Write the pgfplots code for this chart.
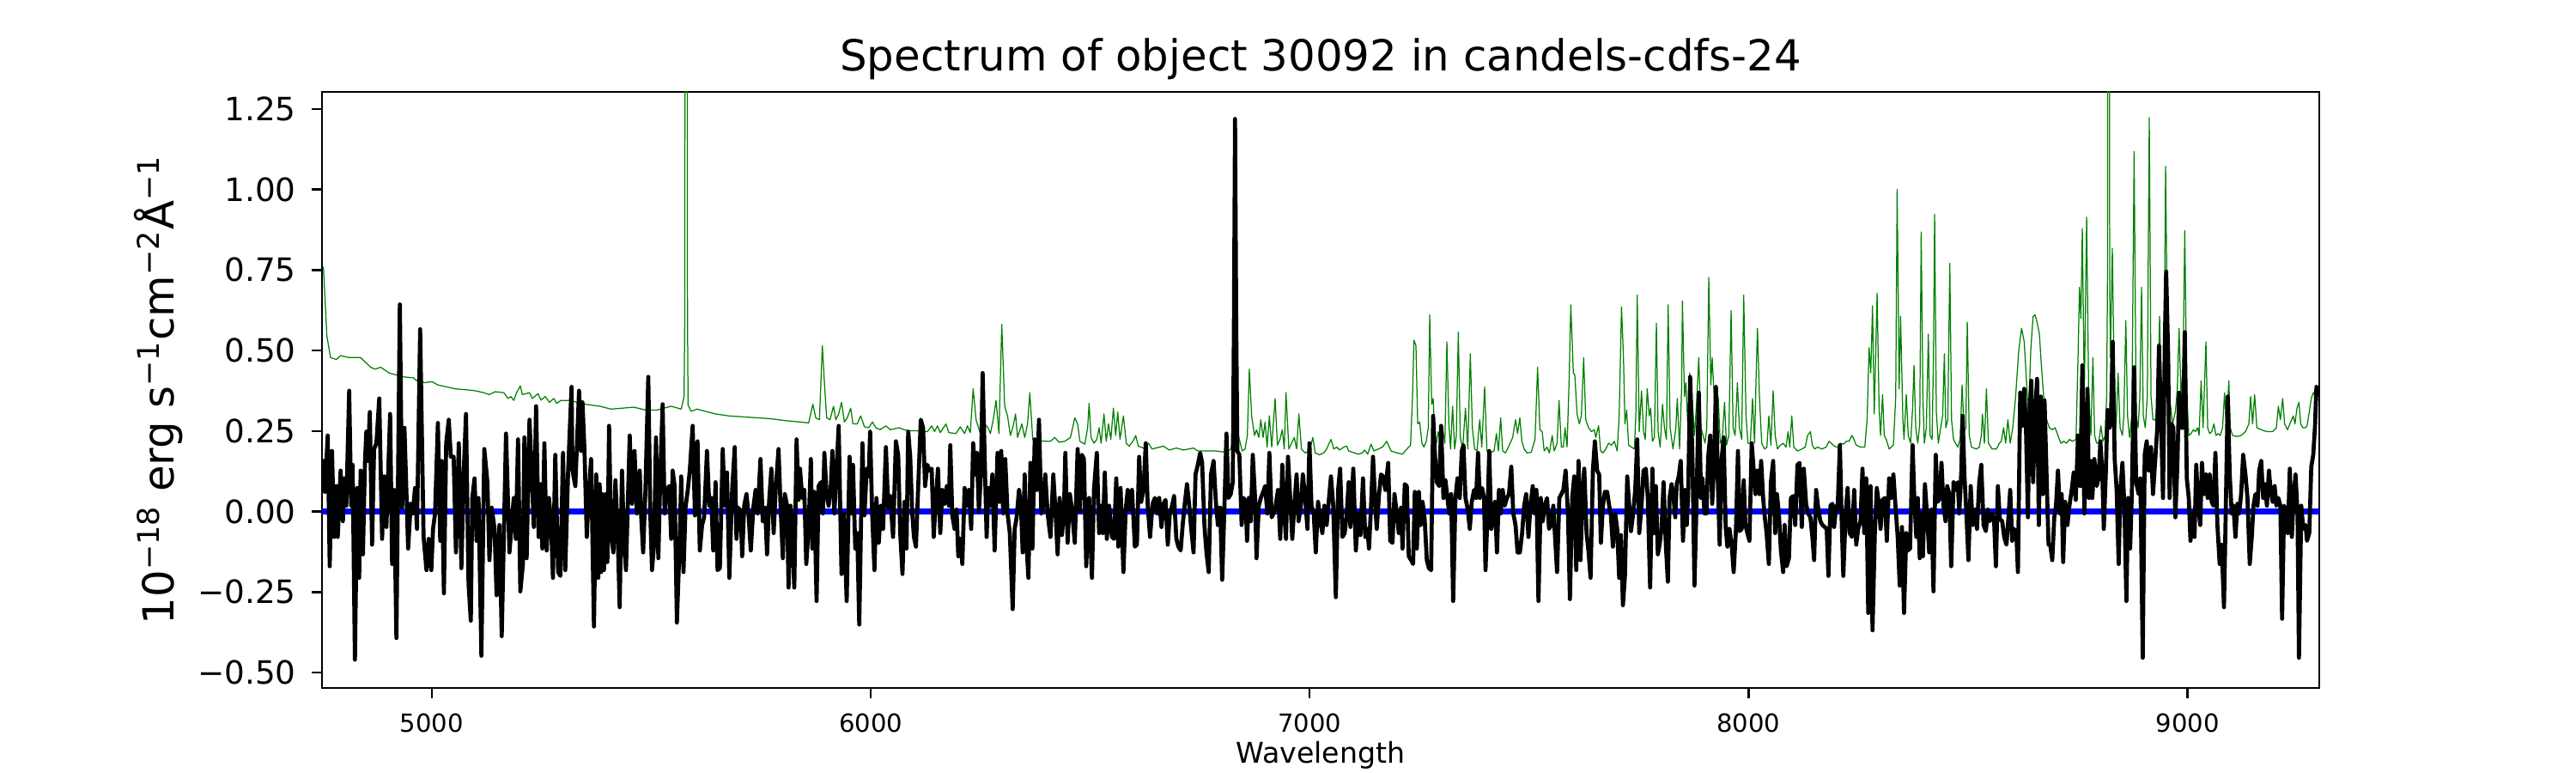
\documentclass[border=0pt]{standalone}
\usepackage{fontspec}
\setmainfont{DejaVu Sans}
\usepackage{pgfplots}
\pgfplotsset{compat=1.18}
\definecolor{mplgreen}{HTML}{008000}
\begin{document}
\begin{tikzpicture}
\path[use as bounding box] (0,0) rectangle (1084.05pt,325.22pt);
\begin{axis}[
  at={(135.51pt,35.77pt)}, anchor=south west,
  scale only axis, width=840.5pt, height=250.78pt,
  xmin=4750, xmax=9300, ymin=-0.548, ymax=1.303,
  axis line style={line width=0.9pt},
  tick style={line width=0.9pt, black},
  major tick length=4.3pt, tick align=outside, tick pos=left,
  xtick={5000,6000,7000,8000,9000},
  xticklabels={5000,6000,7000,8000,9000},
  ytick={-0.5,-0.25,0,0.25,0.5,0.75,1,1.25},
  yticklabels={−0.50,−0.25,0.00,0.25,0.50,0.75,1.00,1.25},
  minor tick num=0,
  xticklabel style={font=\fontsize{10.5}{12}\selectfont, anchor=north, inner sep=0pt, yshift=-6.2pt},
  yticklabel style={font=\fontsize{13.5}{16}\selectfont, anchor=east, inner sep=0pt, xshift=-6.5pt},
  title={Spectrum of object 30092 in candels-cdfs-24},
  title style={font=\fontsize{18}{22}\selectfont, at={(axis description cs:0.5,1.0346)}, anchor=base, inner sep=0pt, yshift=-6pt},
  xlabel={Wavelength},
  xlabel style={font=\fontsize{12}{14}\selectfont, at={(axis description cs:0.5,-0.1254)}, anchor=base, inner sep=0pt},
  ylabel={10\textsuperscript{−18} erg s\textsuperscript{−1}cm\textsuperscript{−2}Å\textsuperscript{−1}},
  ylabel style={font=\fontsize{18}{22}\selectfont, at={(axis description cs:-0.0740,0.5)}, anchor=base, inner sep=0pt},
]
% noise / sky spectrum (green)
\addplot[mplgreen, line width=0.45pt, mark=none, line join=round] coordinates {
(4753.2,0.760)(4761.1,0.545)(4769.5,0.478)(4782.6,0.472)(4792.4,0.484)(4811.9,0.478)(4838.0,0.478)(4860.8,0.448)(4870.6,0.442)(4883.6,0.448)(4903.2,0.430)(4919.5,0.424)(4935.8,0.418)(4958.6,0.415)(4965.1,0.406)(4971.7,0.415)(4981.4,0.400)(5001.0,0.403)(5014.0,0.393)(5033.6,0.387)(5053.2,0.381)(5079.2,0.378)(5098.8,0.375)(5118.4,0.369)(5131.4,0.363)(5144.4,0.372)(5164.0,0.369)(5173.8,0.351)(5180.3,0.357)(5186.8,0.345)(5193.3,0.369)(5201.8,0.390)(5206.4,0.363)(5222.7,0.369)(5229.2,0.351)(5242.2,0.366)(5248.8,0.346)(5258.5,0.357)(5268.3,0.339)(5278.1,0.351)(5284.6,0.336)(5294.4,0.345)(5314.0,0.345)
(5349.9,0.333)(5382.5,0.327)(5408.6,0.318)(5434.7,0.321)(5460.7,0.324)(5486.8,0.315)(5512.9,0.315)(5545.5,0.327)(5568.3,0.318)(5574.8,0.357)(5576.4,0.60)(5577.4,2.5)(5581.4,2.5)(5582.6,0.60)(5584.0,0.330)(5591.1,0.311)(5604.2,0.318)(5623.7,0.311)(5646.6,0.303)(5675.9,0.297)(5708.5,0.294)(5741.1,0.291)(5773.7,0.288)(5806.3,0.282)(5838.9,0.278)(5858.5,0.275)(5868.2,0.333)(5874.8,0.291)(5883.2,0.285)(5889.8,0.515)(5894.3,0.406)
(5899.6,0.291)(5907.4,0.285)(5915.3,0.327)(5920.5,0.285)(5927.0,0.303)(5933.5,0.339)(5940.0,0.278)(5946.6,0.291)(5954.4,0.321)(5959.6,0.272)(5969.4,0.272)(5977.2,0.297)(5985.7,0.263)(5995.5,0.260)(6003.9,0.278)(6011.8,0.260)(6021.5,0.254)(6034.6,0.266)(6044.4,0.254)(6063.9,0.260)(6083.5,0.251)(6109.6,0.251)(6129.1,0.248)(6138.9,0.266)(6145.4,0.248)(6151.9,0.266)(6158.5,0.245)(6171.5,0.272)(6178.0,0.245)(6194.3,0.242)(6204.1,0.263)(6213.9,0.242)(6220.4,0.266)(6226.9,0.245)(6233.4,0.381)(6240.0,0.285)(6249.7,0.242)(6259.5,0.272)(6267.3,0.260)(6272.6,0.242)(6279.1,0.285)(6285.6,0.345)(6292.1,0.242)(6298.6,0.581)(6305.2,0.327)(6311.7,0.297)(6318.2,0.236)(6324.7,0.266)(6329.9,0.303)(6334.5,0.230)(6344.3,0.272)(6350.8,0.230)(6357.3,0.272)(6362.5,0.369)(6369.1,0.224)(6380.1,0.221)(6396.4,0.218)(6409.5,0.218)(6419.3,0.230)(6429.0,0.215)(6442.1,0.218)(6455.1,0.230)(6464.9,0.291)
(6471.4,0.272)(6476.6,0.218)(6487.7,0.209)(6494.2,0.260)(6497.5,0.336)(6502.0,0.230)(6508.6,0.212)(6515.1,0.224)(6520.3,0.260)(6524.9,0.212)(6531.4,0.303)(6536.6,0.218)(6541.8,0.272)(6547.0,0.224)(6552.9,0.321)(6558.1,0.236)(6562.7,0.309)(6567.9,0.224)(6575.7,0.297)(6582.2,0.212)(6588.8,0.203)(6597.2,0.218)(6603.8,0.236)(6609.6,0.203)(6621.4,0.197)(6633.1,0.212)(6640.9,0.194)(6667.0,0.203)(6680.0,0.191)(6696.3,0.197)(6712.6,0.191)(6735.5,0.197)(6745.2,0.188)(6784.4,0.188)(6810.4,0.184)(6820.2,0.194)(6826.7,0.236)(6833.3,0.266)(6839.8,0.224)(6846.3,0.188)(6852.8,0.194)(6858.0,0.236)(6862.6,0.442)(6867.8,0.297)(6874.3,0.236)(6878.9,0.254)(6884.1,0.230)(6888.7,0.285)(6893.9,0.230)(6898.5,0.278)(6903.0,0.200)(6908.2,0.297)(6913.5,0.200)(6921.3,0.351)(6926.5,0.206)(6932.4,0.224)(6937.6,0.254)(6942.1,0.194)(6946.1,0.369)(6952.6,0.194)(6965.0,0.230)(6970.2,0.194)(6975.4,0.303)(6981.3,0.194)(6989.7,0.182)(6999.5,0.188)(7007.3,0.230)(7012.6,0.182)(7022.3,0.176)(7032.1,0.182)(7038.6,0.194)
(7048.5,0.224)(7055.0,0.194)(7061.5,0.200)(7068.1,0.191)(7077.8,0.200)(7084.4,0.203)(7088.9,0.188)(7097.4,0.184)(7110.4,0.178)(7120.2,0.182)(7125.4,0.191)(7132.0,0.178)(7139.8,0.209)(7146.3,0.188)(7156.1,0.194)(7165.9,0.200)(7175.6,0.218)(7185.4,0.188)(7198.5,0.182)(7211.5,0.178)(7221.3,0.194)(7229.8,0.206)(7234.3,0.357)(7237.6,0.532)(7242.1,0.515)(7246.1,0.272)(7250.6,0.278)(7255.8,0.212)(7260.4,0.200)(7265.6,0.218)(7270.2,0.260)(7273.4,0.611)(7278.0,0.333)(7281.3,0.351)(7286.5,0.194)(7293.0,0.248)(7297.6,0.212)(7302.8,0.260)(7308.0,0.212)(7312.6,0.527)(7317.1,0.272)(7321.0,0.194)(7325.6,0.327)(7330.2,0.194)(7334.1,0.236)(7338.6,0.557)(7343.2,0.230)(7348.4,0.194)(7354.9,0.321)(7360.2,0.194)(7366.0,0.490)(7370.6,0.260)(7375.8,0.194)(7381.0,0.188)(7387.5,0.285)(7392.1,0.200)(7398.6,0.387)(7403.8,0.188)(7410.4,0.182)(7420.1,0.188)(7425.4,0.242)(7429.9,0.188)(7435.1,0.291)(7439.7,0.188)(7446.2,0.182)(7452.7,0.200)(7462.5,0.230)(7469.0,0.285)(7473.6,0.242)(7478.8,0.291)(7483.4,0.218)(7488.6,0.194)(7495.1,0.182)(7504.9,0.184)(7513.4,0.224)(7519.2,0.448)(7524.5,0.254)(7529.7,0.248)(7534.2,0.188)(7540.8,0.200)(7546.0,0.182)(7552.5,0.236)(7557.1,0.188)(7563.6,0.212)(7568.1,0.345)(7573.4,0.200)(7577.9,0.200)(7581.8,0.260)(7586.4,0.200)(7591.0,0.406)(7594.9,0.642)(7600.7,0.430)(7604.0,0.424)(7609.2,0.303)(7614.4,0.272)(7619.0,0.297)(7624.2,0.478)
(7628.9,0.285)(7635.4,0.260)(7641.9,0.248)(7648.4,0.254)(7651.7,0.230)(7658.2,0.266)(7662.8,0.188)(7668.0,0.182)(7674.5,0.194)(7681.0,0.212)(7687.5,0.206)(7694.1,0.218)(7700.6,0.188)(7705.1,0.297)(7710.4,0.636)(7714.9,0.478)(7718.2,0.272)(7722.1,0.315)(7726.7,0.206)(7733.2,0.200)(7739.7,0.194)(7743.0,0.297)(7746.2,0.672)(7750.8,0.248)(7756.0,0.375)(7760.6,0.248)(7764.5,0.224)(7769.0,0.381)(7773.6,0.297)(7776.9,0.321)(7780.8,0.218)(7785.3,0.230)(7789.9,0.585)(7793.8,0.248)(7798.4,0.200)(7803.9,0.333)(7808.2,0.260)(7812.7,0.224)(7816.6,0.642)(7821.2,0.260)(7827.7,0.194)(7834.2,0.260)(7837.5,0.351)(7842.7,0.194)(7847.3,0.381)(7849.2,0.654)(7853.8,0.357)(7857.1,0.400)(7861.6,0.260)(7865.5,0.430)(7870.1,0.381)(7876.6,0.236)(7881.8,0.345)(7886.4,0.478)(7891.6,0.260)(7896.2,0.236)(7900.7,0.212)(7904.7,0.260)(7909.2,0.727)(7913.8,0.393)(7917.0,0.478)(7922.3,0.333)(7926.8,0.321)(7930.7,0.357)(7935.3,0.212)(7939.9,0.224)(7945.1,0.339)(7949.6,0.206)(7954.9,0.236)(7960.1,0.624)(7964.6,0.260)(7969.2,0.236)(7974.4,0.400)(7979.0,0.260)(7984.2,0.224)(7988.8,0.672)(7994.0,0.297)(7998.5,0.212)(8003.8,0.212)(8009.0,0.351)(8013.5,0.212)(8016.8,0.406)(8020.1,0.569)(8024.6,0.357)(8029.8,0.212)(8036.4,0.194)(8041.6,0.200)(8046.1,0.297)(8050.7,0.206)(8055.9,0.375)(8060.5,0.236)(8065.7,0.194)(8072.2,0.206)(8078.7,0.212)(8085.3,0.200)(8089.8,0.248)(8093.7,0.200)(8098.3,0.297)(8102.9,0.200)(8111.3,0.188)(8121.1,0.194)(8129.0,0.200)(8134.2,0.236)(8140.7,0.248)(8145.2,0.206)(8150.5,0.194)(8157.0,0.200)(8166.8,0.194)(8176.5,0.200)(8183.1,0.218)(8188.3,0.212)(8192.8,0.206)(8199.4,0.200)
(8202.7,0.200)(8209.2,0.212)(8215.7,0.209)(8222.3,0.218)(8228.8,0.218)(8235.3,0.236)(8239.9,0.224)(8245.1,0.206)(8254.9,0.200)(8264.6,0.200)(8269.9,0.285)(8274.4,0.509)(8278.3,0.430)(8282.2,0.639)(8286.2,0.303)(8292.7,0.678)(8297.2,0.321)(8300.5,0.236)(8305.1,0.363)(8309.0,0.236)(8313.5,0.224)(8320.1,0.194)(8329.8,0.206)(8335.1,0.357)(8338.3,1.000)(8342.9,0.381)(8346.1,0.606)(8351.4,0.285)(8354.0,0.224)(8359.2,0.363)(8363.7,0.236)(8369.0,0.212)(8373.5,0.321)(8376.8,0.454)(8380.7,0.260)(8385.3,0.212)(8389.8,0.272)(8393.1,0.868)(8397.0,0.357)(8400.3,0.212)(8404.8,0.260)(8409.4,0.551)(8413.3,0.236)(8417.9,0.224)(8421.1,0.478)(8423.7,0.923)(8427.6,0.309)(8432.2,0.212)(8437.4,0.260)(8442.0,0.297)(8445.9,0.490)(8449.2,0.260)(8453.7,0.285)(8458.3,0.771)(8462.2,0.285)(8466.8,0.224)(8471.3,0.212)(8476.5,0.200)(8481.8,0.224)(8486.3,0.393)(8490.9,0.248)(8494.8,0.260)(8498.1,0.588)(8502.6,0.236)(8507.8,0.200)(8518.9,0.194)(8525.4,0.200)(8530.0,0.236)(8532.6,0.303)(8537.2,0.212)(8541.7,0.381)(8546.3,0.212)(8554.8,0.194)(8564.6,0.194)(8571.1,0.212)(8575.6,0.218)(8580.9,0.260)(8585.4,0.212)(8590.6,0.285)(8595.9,0.212)(8601.7,0.260)(8608.2,0.357)(8615.4,0.502)(8621.9,0.569)(8627.8,0.527)(8633.0,0.406)(8637.6,0.297)(8642.8,0.502)(8648.0,0.606)(8652.6,0.611)(8657.1,0.588)(8662.4,0.551)(8666.9,0.454)(8672.1,0.357)(8678.7,0.285)(8685.2,0.260)(8691.7,0.254)(8698.2,0.260)(8704.7,0.236)(8711.3,0.212)(8717.8,0.218)(8724.3,0.212)(8730.8,0.224)(8737.3,0.218)(8745.8,0.224)
(8750.4,0.478)(8753.7,0.696)(8756.9,0.599)(8760.2,0.878)(8764.7,0.357)(8770.0,0.914)(8774.5,0.381)(8779.7,0.236)(8784.3,0.478)(8788.2,0.236)(8792.8,0.212)(8797.3,0.212)(8802.6,0.266)(8807.1,0.218)(8812.3,0.236)(8815.6,0.357)(8817.5,0.70)(8818.4,2.0)(8821.2,2.0)(8822.6,0.70)(8824.1,0.478)(8828.6,0.817)(8833.2,0.357)(8837.1,0.260)(8841.7,0.430)(8846.2,0.260)(8851.5,0.236)(8854.7,0.297)(8859.3,0.593)(8863.2,0.297)(8867.8,0.230)(8873.0,0.297)(8878.2,1.118)(8882.8,0.297)(8887.3,0.260)(8891.2,0.357)(8895.1,0.696)(8899.1,0.297)(8903.6,0.260)(8908.2,0.357)(8912.7,1.223)(8916.7,0.357)(8921.2,0.285)(8926.4,0.285)(8931.7,0.333)(8936.2,0.606)(8940.8,0.333)(8946.0,0.357)(8949.9,1.072)(8954.5,0.478)(8959.0,0.357)(8965.6,0.272)(8972.1,0.309)(8976.6,0.381)(8980.6,0.569)(8985.1,0.357)(8989.7,0.454)(8993.6,0.872)(8998.2,0.357)(9002.7,0.236)(9007.9,0.242)(9013.2,0.254)(9017.7,0.248)(9022.9,0.260)(9026.2,0.236)(9030.8,0.406)(9035.3,0.260)(9041.8,0.527)(9045.8,0.260)(9050.3,0.242)(9054.9,0.248)(9060.1,0.272)(9064.7,0.236)(9069.9,0.242)(9074.4,0.236)(9079.7,0.260)(9084.2,0.369)(9088.1,0.260)(9094.0,0.406)(9097.3,0.260)(9102.5,0.236)(9112.3,0.233)(9122.0,0.236)(9131.8,0.248)(9139.6,0.272)(9143.6,0.357)(9148.1,0.272)(9152.7,0.363)(9157.9,0.260)(9167.7,0.254)(9180.7,0.248)(9193.8,0.248)(9202.2,0.260)(9206.8,0.327)(9211.4,0.285)(9216.6,0.351)(9221.1,0.272)(9227.7,0.254)(9232.9,0.272)(9240.7,0.297)(9244.6,0.272)(9249.2,0.321)(9253.7,0.339)(9257.7,0.272)(9262.9,0.260)(9268.7,0.260)(9272.0,0.266)(9277.2,0.309)(9281.8,0.351)(9286.3,0.369)(9291.5,0.357)(9296.8,0.345)
};
% zero line (blue)
\addplot[blue, line width=2.2pt, mark=none] coordinates {(4750,0)(9300,0)};
% object spectrum (black)
\addplot[black, line width=1.7pt, mark=none, line join=round] coordinates {
(4753.2,0.163)(4756.5,0.061)(4763.0,0.236)(4767.6,-0.170)(4772.8,0.188)(4777.4,-0.079)(4782.6,0.079)(4785.8,-0.079)(4792.4,0.127)(4797.6,-0.030)(4800.8,0.103)(4805.4,0.018)(4811.9,0.375)(4816.5,0.018)(4819.7,0.145)(4825.0,-0.460)(4830.2,0.073)(4834.7,-0.206)(4838.0,0.127)(4843.2,-0.133)(4847.8,0.151)(4851.0,0.248)(4854.3,0.157)(4858.9,0.309)(4864.1,-0.103)(4868.6,0.194)(4873.9,0.212)(4880.4,0.351)(4886.9,-0.085)(4891.5,0.109)(4896.7,-0.048)(4905.2,0.303)(4909.7,-0.163)(4914.3,0.067)(4919.5,-0.393)(4927.3,0.643)(4932.5,0.012)(4937.8,0.260)(4946.2,-0.115)(4952.1,0.024)(4956.7,-0.006)(4961.9,0.073)(4966.4,-0.054)(4973.6,0.566)(4981.4,-0.079)(4988.0,-0.182)(4993.2,-0.085)(4999.0,-0.182)(5003.0,-0.054)(5007.5,-0.006)(5014.0,0.275)(5019.3,-0.091)(5022.5,0.157)(5027.7,-0.254)(5032.9,0.212)(5038.8,0.285)(5043.4,0.170)(5049.9,0.170)(5055.1,-0.127)(5061.6,0.212)(5067.5,-0.176)(5072.7,0.115)(5078.0,0.303)(5083.8,-0.224)(5089.0,-0.339)(5092.3,0.042)(5097.5,0.103)(5102.1,-0.091)(5106.6,0.042)(5113.1,-0.448)(5119.7,0.194)(5126.8,0.091)(5131.4,-0.151)(5136.6,0.012)(5143.1,-0.054)(5147.7,-0.260)(5154.2,-0.042)(5159.4,-0.387)(5169.2,0.242)(5177.0,-0.127)(5186.8,0.042)(5191.4,-0.085)(5196.6,0.224)(5201.8,-0.248)(5207.7,-0.163)(5211.0,0.230)(5216.2,-0.145)(5222.7,0.285)(5227.9,0.115)(5232.5,-0.048)(5237.7,0.327)(5243.5,-0.079)(5247.5,0.085)(5252.0,-0.115)(5256.6,0.212)(5261.8,-0.121)(5267.0,0.042)(5271.6,-0.030)(5276.1,-0.206)(5281.4,0.176)(5287.9,-0.188)(5293.1,-0.200)(5299.0,0.182)(5304.2,-0.182)(5310.7,0.127)(5318.5,0.387)
(5320.6,0.127)(5327.1,0.079)(5335.6,0.375)(5340.1,0.188)(5343.4,0.339)(5348.0,0.188)(5353.2,-0.079)(5357.7,0.054)(5363.0,0.163)(5369.5,-0.357)(5374.7,0.115)(5379.2,-0.206)(5382.5,0.085)(5385.8,-0.188)(5389.0,0.054)(5392.3,-0.182)(5396.8,0.054)(5400.1,-0.157)(5404.0,0.266)(5408.6,-0.079)(5413.8,-0.127)(5418.4,0.097)(5423.6,-0.067)(5428.1,-0.297)(5433.4,0.127)(5437.9,-0.091)(5442.5,-0.182)(5451.0,0.236)(5456.2,0.024)(5462.0,0.188)(5467.3,-0.006)(5473.8,0.127)(5477.0,-0.012)(5481.6,-0.127)(5486.8,0.067)(5493.3,0.418)(5497.9,-0.006)(5501.8,-0.182)(5506.4,-0.103)(5510.9,0.230)(5516.2,-0.145)(5520.7,0.115)(5526.0,0.333)(5530.5,-0.006)(5535.7,0.067)(5541.0,0.079)(5545.5,-0.085)(5548.8,0.127)(5553.3,0.079)(5558.5,-0.345)(5565.1,-0.079)(5568.3,0.109)(5573.5,-0.188)(5578.1,0.012)(5583.3,0.067)(5587.9,0.127)(5594.4,0.266)(5599.6,-0.012)(5605.5,0.218)(5610.7,-0.121)(5615.9,-0.042)(5620.5,-0.018)(5627.0,0.188)(5632.2,0.018)(5636.8,0.042)(5641.3,-0.121)(5646.6,0.091)(5651.1,-0.182)(5656.3,-0.176)(5662.9,0.194)(5667.4,0.018)(5672.6,0.121)(5677.9,-0.206)(5684.4,0.067)(5690.2,0.200)(5694.2,-0.085)(5698.7,0.012)(5703.9,-0.006)(5707.2,-0.139)(5711.8,0.018)(5717.0,0.054)(5721.5,-0.006)(5726.8,-0.121)(5732.6,0.012)(5737.8,0.067)(5742.4,-0.006)(5748.9,0.163)(5754.1,-0.030)(5759.4,0.012)(5763.9,-0.133)(5768.5,0.030)(5773.7,0.133)(5778.9,-0.067)(5783.5,0.067)(5790.0,0.194)(5794.6,0.018)(5799.8,-0.145)(5804.3,0.054)(5809.6,0.018)(5812.8,-0.236)(5817.4,0.018)(5821.3,-0.079)(5825.9,-0.236)(5831.1,0.224)(5835.6,0.036)(5838.9,0.133)(5844.1,0.042)(5848.7,0.067)(5853.2,-0.163)(5858.5,-0.054)(5863.7,0.163)(5867.0,-0.115)(5871.5,0.061)(5876.7,-0.278)(5881.3,0.079)(5886.5,0.091)(5891.1,-0.006)
(5894.4,0.182)(5899.6,0.054)(5904.2,0.018)(5908.7,0.067)(5912.7,0.188)(5917.2,-0.006)(5921.8,0.115)(5927.0,0.266)(5933.5,-0.194)(5938.7,-0.006)(5945.3,-0.278)(5951.8,0.170)(5956.3,-0.006)(5959.6,0.145)(5964.8,-0.115)(5969.4,-0.067)(5973.9,-0.351)(5981.1,0.212)(5985.7,-0.012)(5990.9,0.133)(5995.5,0.109)(5998.7,0.248)(6003.3,-0.006)(6008.5,-0.182)(6013.1,0.042)(6018.3,-0.097)(6023.5,0.018)(6028.1,-0.054)(6034.6,0.200)(6039.8,0.012)(6044.4,0.048)(6050.9,-0.079)(6057.4,0.218)(6062.6,0.176)(6067.2,-0.067)(6072.4,-0.194)(6077.0,0.030)(6081.5,-0.115)(6085.4,0.248)(6090.0,0.170)(6094.6,-0.006)(6098.5,-0.079)(6103.0,-0.109)(6109.6,0.127)(6114.1,0.285)(6119.3,0.260)(6123.9,0.079)(6129.1,0.145)(6133.7,0.127)(6138.9,0.133)(6143.5,-0.079)(6148.7,0.042)(6153.2,0.133)(6158.5,-0.067)(6163.0,0.067)(6168.2,0.024)(6173.5,0.079)(6178.0,0.018)(6181.3,0.206)(6185.8,-0.012)(6191.1,-0.054)(6195.6,0.006)(6199.5,-0.139)(6204.1,-0.085)(6208.7,-0.163)(6213.9,0.073)(6218.4,0.018)(6223.7,0.067)(6228.9,-0.054)(6233.4,0.212)(6238.0,0.115)(6241.9,0.182)(6246.5,0.000)(6251.0,0.115)(6255.0,0.430)(6259.5,0.176)(6264.1,-0.079)(6268.0,0.073)(6272.6,0.018)(6277.1,0.115)(6282.3,-0.121)(6288.9,0.182)(6293.4,0.030)(6297.3,0.188)(6301.9,-0.006)(6306.5,0.163)(6311.7,-0.006)(6316.9,-0.067)(6323.4,-0.303)(6328.0,-0.054)(6332.5,-0.018)(6337.8,0.067)(6342.3,0.018)(6346.2,-0.127)(6350.8,0.115)(6355.4,-0.115)(6359.3,-0.206)(6363.8,0.151)(6368.4,-0.115)(6373.6,0.224)(6378.2,0.067)(6383.4,0.285)(6388.6,-0.006)(6393.2,0.018)(6397.7,0.115)(6403.0,-0.006)(6409.5,-0.079)(6416.0,0.115)(6421.2,-0.006)(6425.8,-0.133)(6430.3,0.042)(6435.6,-0.073)(6440.1,-0.006)(6443.4,0.182)(6448.6,-0.097)(6453.8,0.054)(6458.4,0.006)(6464.9,-0.097)
(6471.4,0.194)(6476.6,0.000)(6481.2,0.176)(6485.7,0.163)(6491.0,-0.170)(6497.5,0.042)(6504.0,-0.206)(6508.6,0.067)(6515.1,0.182)(6520.3,-0.067)(6524.9,0.018)(6528.8,-0.067)(6533.3,0.121)(6537.9,-0.085)(6543.1,0.018)(6549.6,-0.079)(6554.2,-0.085)(6559.4,0.103)(6564.0,-0.109)(6569.2,0.073)(6575.7,-0.188)(6580.9,0.006)(6585.5,0.067)(6590.7,0.006)(6595.3,0.067)(6601.8,-0.109)(6606.4,-0.103)(6611.6,0.170)(6616.1,0.030)(6621.4,0.067)(6626.6,0.212)(6631.1,0.018)(6636.4,-0.079)(6642.2,0.024)(6647.4,0.042)(6652.7,-0.006)(6657.2,0.042)(6662.4,-0.048)(6667.0,0.024)(6671.6,0.036)(6676.8,-0.103)(6681.3,-0.006)(6686.6,0.018)(6691.1,0.048)(6696.3,-0.085)(6700.9,-0.109)(6706.1,-0.121)(6710.7,-0.042)(6715.9,0.030)(6720.5,0.085)(6725.7,0.018)(6730.2,-0.054)(6735.5,-0.127)(6740.0,0.115)(6745.2,0.145)(6750.5,0.182)(6755.0,0.151)(6760.2,-0.042)(6764.8,-0.127)(6770.0,-0.188)(6775.2,0.115)(6781.1,0.157)(6786.3,0.030)(6790.9,-0.042)(6796.1,0.012)(6800.7,-0.212)(6805.9,0.018)(6810.4,0.242)(6815.0,0.042)(6820.2,0.054)(6824.8,0.091)(6827.6,0.60)(6830.0,1.219)(6832.6,0.60)(6835.2,0.188)(6839.8,0.176)(6845.0,-0.042)(6849.6,0.042)(6854.1,0.030)(6857.4,-0.091)(6861.3,0.042)(6865.9,-0.030)(6870.4,0.176)(6875.6,0.042)(6878.9,-0.145)(6884.1,0.018)(6888.7,0.042)(6893.9,0.060)(6898.5,0.079)(6903.7,-0.006)(6908.2,0.182)(6913.5,-0.018)(6918.0,-0.006)(6922.6,0.018)(6927.8,0.067)(6933.0,-0.085)(6937.6,0.145)(6942.1,-0.006)(6946.1,-0.085)(6950.6,0.170)(6955.2,0.054)(6960.4,-0.085)(6965.0,0.018)(6970.2,0.115)(6974.7,-0.030)(6980.0,0.018)(6984.5,0.115)(6989.7,0.042)(6995.0,-0.054)(6999.5,0.212)(7004.1,0.018)(7009.3,-0.006)(7013.9,-0.127)(7019.1,0.030)(7024.3,-0.030)(7028.9,-0.067)(7033.4,0.018)(7038.6,-0.042)
(7048.5,0.109)(7053.7,0.018)(7059.6,-0.266)(7064.8,0.067)(7069.4,0.133)(7074.6,-0.079)(7079.8,-0.067)(7084.4,-0.006)(7088.9,0.091)(7092.8,-0.048)(7099.4,0.133)(7105.2,-0.121)(7110.4,-0.006)(7115.7,-0.073)(7121.5,0.103)(7126.7,-0.079)(7131.3,-0.054)(7135.2,-0.115)(7139.8,0.018)(7144.3,0.170)(7149.6,0.018)(7152.8,-0.054)(7158.0,0.054)(7162.6,0.115)(7167.2,0.109)(7172.4,0.067)(7178.9,0.151)(7183.5,-0.091)(7188.7,-0.097)(7193.2,0.054)(7198.5,-0.006)(7203.0,-0.067)(7208.2,0.012)(7211.5,-0.115)(7216.7,0.085)(7221.3,0.079)(7225.8,-0.139)(7231.1,-0.151)(7235.6,-0.163)(7239.5,0.061)(7244.1,-0.115)(7248.7,0.061)(7252.6,-0.042)(7257.1,0.030)(7261.7,-0.018)(7266.9,-0.151)(7271.5,-0.176)(7276.7,-0.182)(7281.3,0.297)(7285.2,0.182)(7289.7,0.091)(7295.0,0.079)(7299.5,0.266)(7304.7,0.042)(7309.3,0.097)(7313.9,0.042)(7317.8,-0.006)(7322.3,0.054)(7326.9,-0.278)(7332.1,0.042)(7336.7,0.103)(7341.9,0.042)(7346.5,0.188)(7350.4,0.206)(7354.9,0.042)(7360.2,0.006)(7364.7,-0.054)(7369.3,0.030)(7374.5,0.067)(7379.1,0.042)(7383.6,0.182)(7387.5,0.042)(7392.8,0.073)(7397.3,0.042)(7400.6,-0.182)(7405.1,-0.006)(7409.1,0.188)(7413.6,-0.054)(7418.2,-0.018)(7422.1,0.030)(7426.7,-0.127)(7431.2,0.067)(7435.1,-0.006)(7439.7,0.067)(7444.3,0.018)(7449.5,0.042)(7454.0,0.054)(7459.3,0.139)(7463.8,-0.006)(7469.0,-0.042)(7473.6,-0.127)(7478.8,-0.127)(7484.0,-0.067)(7488.6,0.018)(7493.2,0.054)(7498.4,-0.079)(7502.9,0.018)(7508.2,0.079)(7512.7,-0.006)(7516.6,0.067)(7521.2,-0.278)(7526.4,0.042)(7531.0,-0.030)(7535.5,0.018)(7540.8,0.042)(7545.3,-0.054)(7550.5,-0.042)(7555.1,0.018)(7559.0,-0.079)(7563.6,-0.188)(7568.8,0.042)(7573.4,0.054)(7577.9,0.067)(7583.1,0.127)(7588.4,-0.006)(7592.9,-0.272)(7598.1,0.042)(7602.7,0.109)(7607.3,-0.182)(7612.5,0.157)(7617.0,-0.151)(7622.3,0.079)
(7625.6,0.133)(7630.8,-0.067)(7635.4,-0.127)(7639.9,-0.206)(7645.2,0.127)(7649.7,0.218)(7654.9,0.127)(7659.5,0.115)(7663.4,-0.097)(7668.0,0.018)(7672.5,0.061)(7677.8,0.061)(7682.3,0.018)(7686.2,-0.012)(7690.8,-0.109)(7696.0,-0.006)(7700.6,-0.054)(7705.1,-0.206)(7709.1,-0.073)(7713.6,-0.291)(7718.2,-0.200)(7723.4,0.109)(7728.0,0.018)(7731.9,-0.061)(7736.4,-0.012)(7741.7,0.067)(7746.2,0.224)(7750.8,-0.067)(7756.0,0.018)(7760.6,0.127)(7765.8,0.133)(7770.3,0.042)(7775.6,-0.236)(7780.8,0.133)(7784.0,-0.067)(7788.6,0.079)(7793.2,-0.133)(7797.1,-0.103)(7801.6,-0.054)(7806.2,0.091)(7811.4,-0.103)(7816.0,-0.218)(7819.9,0.042)(7824.5,0.085)(7829.0,0.042)(7832.9,-0.018)(7836.2,0.085)(7840.8,0.109)(7845.3,0.157)(7850.5,-0.091)(7855.1,0.067)(7859.0,-0.042)(7862.3,0.054)(7866.8,0.418)(7872.1,0.163)(7876.6,-0.230)(7881.2,0.018)(7886.4,0.369)(7891.6,0.042)(7894.9,0.103)(7899.4,-0.006)(7904.0,-0.006)(7907.9,0.170)(7912.5,0.236)(7917.0,0.024)(7921.0,0.139)(7925.5,0.387)(7930.1,0.079)(7934.0,-0.103)(7938.6,0.163)(7943.1,0.230)(7947.7,-0.048)(7951.6,-0.109)(7956.2,-0.054)(7961.4,-0.103)(7965.9,-0.188)(7971.2,-0.054)(7975.7,0.188)(7979.6,-0.061)(7984.2,-0.054)(7988.8,0.097)(7992.7,-0.042)(7997.2,-0.067)(8001.8,-0.091)(8007.0,0.212)(8011.6,0.127)(8015.5,0.054)(8020.1,0.127)(8024.6,0.054)(8028.5,0.157)(8033.1,0.042)(8036.4,-0.012)(8040.9,-0.067)(8046.1,-0.163)(8050.7,0.091)(8055.9,0.157)(8060.5,-0.067)(8064.4,0.054)(8068.9,-0.006)(8073.5,-0.121)(8078.7,-0.188)(8082.0,-0.042)(8086.6,-0.170)(8091.8,-0.145)(8096.3,0.042)(8101.6,0.048)(8106.1,-0.042)(8111.3,0.145)(8115.9,0.151)(8121.1,-0.048)(8125.7,0.133)(8130.9,0.024)(8135.5,-0.006)(8140.7,-0.018)(8145.2,-0.079)(8149.2,-0.151)(8153.7,0.067)(8158.9,0.006)(8163.5,-0.030)(8168.1,-0.042)(8173.3,-0.048)(8177.8,-0.054)(8181.8,-0.200)(8186.3,0.018)(8190.9,0.024)(8194.8,-0.048)(8199.4,0.018)
(8202.7,0.006)(8207.9,0.206)(8211.8,-0.018)(8215.7,-0.200)(8221.0,-0.006)(8225.5,0.073)(8230.1,-0.067)(8235.3,-0.079)(8240.5,0.067)(8245.1,-0.103)(8249.6,-0.054)(8254.9,-0.030)(8259.4,0.133)(8263.3,-0.067)(8267.9,0.103)(8272.5,-0.315)(8277.7,0.079)(8282.2,-0.369)(8287.5,-0.067)(8292.0,0.073)(8297.2,0.018)(8300.5,-0.054)(8305.1,0.036)(8310.3,0.042)(8314.8,-0.091)(8320.1,0.103)(8324.6,0.042)(8329.8,0.115)(8335.1,0.006)(8339.6,-0.079)(8344.2,-0.230)(8349.4,-0.048)(8354.0,-0.315)(8359.2,-0.067)(8362.4,-0.121)(8367.7,-0.115)(8373.5,0.206)(8377.4,0.042)(8382.0,-0.079)(8385.3,0.042)(8389.8,-0.145)(8393.7,-0.006)(8397.0,-0.139)(8401.6,0.085)(8406.8,-0.018)(8411.3,-0.127)(8416.6,0.006)(8421.1,-0.248)(8426.3,0.176)(8430.9,0.030)(8435.5,0.042)(8439.4,0.151)(8443.9,0.018)(8448.5,-0.030)(8452.4,0.079)(8457.0,0.054)(8461.5,-0.170)(8466.8,0.091)(8471.3,0.067)(8476.5,0.091)(8479.8,-0.006)(8484.4,0.121)(8487.6,0.297)(8491.5,0.115)(8496.1,-0.006)(8500.7,-0.151)(8505.9,0.079)(8510.4,-0.042)(8515.7,0.006)(8520.2,-0.054)(8525.4,0.091)(8530.0,0.145)(8535.2,-0.042)(8540.4,-0.061)(8545.0,0.006)(8549.6,-0.030)(8554.8,-0.006)(8559.3,-0.030)(8563.3,-0.170)(8567.8,0.079)(8572.4,-0.024)(8577.6,-0.030)(8582.2,-0.079)(8587.4,-0.103)(8591.9,-0.018)(8595.9,0.067)(8600.4,-0.091)(8605.0,-0.054)(8610.2,-0.079)(8613.5,-0.188)(8618.7,0.369)(8623.2,0.266)(8627.8,0.381)(8631.7,0.266)(8636.3,-0.018)(8639.5,0.297)(8644.1,0.406)(8648.0,0.091)(8652.6,0.297)(8657.1,0.412)(8661.1,-0.042)(8665.6,0.357)(8670.2,0.054)(8674.1,0.345)(8678.7,0.115)(8683.2,-0.103)(8687.1,-0.103)(8691.7,-0.151)(8696.3,-0.018)(8700.2,0.018)(8704.7,0.127)(8709.3,-0.006)(8713.2,0.054)(8716.5,-0.157)(8721.0,0.030)(8726.3,-0.042)(8730.8,0.018)(8736.0,0.067)(8740.6,0.121)(8745.2,0.036)
(8750.4,0.236)(8755.6,0.079)(8760.2,0.454)(8764.7,-0.006)(8768.7,0.176)(8771.9,0.381)(8775.2,0.042)(8779.7,0.157)(8783.0,0.042)(8787.6,0.163)(8792.8,0.079)(8797.3,0.103)(8801.3,0.218)(8805.8,0.115)(8809.1,-0.054)(8813.6,0.115)(8817.6,0.315)(8822.1,0.260)(8825.4,0.285)(8829.3,0.527)(8833.9,0.163)(8838.4,0.067)(8843.0,-0.163)(8846.9,0.067)(8851.5,0.151)(8856.0,0.018)(8860.6,-0.278)(8864.5,0.042)(8869.1,-0.115)(8873.0,0.054)(8878.2,0.448)(8882.8,0.091)(8888.6,0.054)(8892.5,0.103)(8897.8,-0.454)(8902.3,0.176)(8906.9,0.218)(8911.4,0.127)(8916.7,0.200)(8921.2,0.054)(8926.4,0.163)(8931.0,0.260)(8934.9,0.515)(8939.5,0.285)(8944.0,0.042)(8948.0,0.515)(8951.2,0.745)(8955.8,0.478)(8959.0,0.042)(8963.6,0.272)(8967.5,0.260)(8972.1,-0.018)(8976.6,0.139)(8980.6,0.369)(8985.1,0.260)(8989.7,0.260)(8993.6,0.557)(8998.2,0.103)(9002.7,0.042)(9006.6,-0.091)(9011.2,-0.006)(9015.8,-0.079)(9019.7,0.145)(9024.2,0.018)(9028.8,-0.042)(9032.7,0.151)(9037.3,0.054)(9041.8,0.115)(9045.8,0.042)(9050.3,0.115)(9054.9,0.030)(9058.8,0.018)(9063.4,0.182)(9067.9,-0.042)(9073.1,-0.163)(9077.7,-0.103)(9082.9,-0.297)(9087.5,0.042)(9091.4,0.357)(9096.0,0.115)(9100.5,-0.006)(9104.4,0.018)(9109.0,-0.079)(9113.6,0.024)(9117.5,-0.006)(9122.0,0.054)(9126.6,0.176)(9131.8,0.115)(9136.4,0.042)(9141.6,-0.163)(9146.2,-0.079)(9150.1,0.018)(9154.6,0.054)(9159.2,0.018)(9163.1,0.127)(9167.7,0.157)(9172.2,0.042)(9176.2,0.085)(9180.7,0.018)(9185.3,0.127)(9189.2,0.067)(9193.8,0.030)(9198.3,0.079)(9202.2,0.018)(9206.8,0.042)(9211.4,0.018)(9215.3,-0.333)(9219.8,0.018)(9224.4,0.006)(9228.3,-0.067)(9232.9,0.133)(9237.5,-0.079)(9241.4,0.042)(9245.9,0.115)(9250.5,-0.006)(9253.7,-0.454)(9259.0,0.018)(9263.5,-0.054)(9268.7,-0.042)(9272.0,-0.091)(9277.2,-0.067)(9281.8,0.139)(9286.3,0.176)(9290.3,0.266)(9293.5,0.387)(9296.8,0.357)
};
\end{axis}
\end{tikzpicture}
\end{document}
